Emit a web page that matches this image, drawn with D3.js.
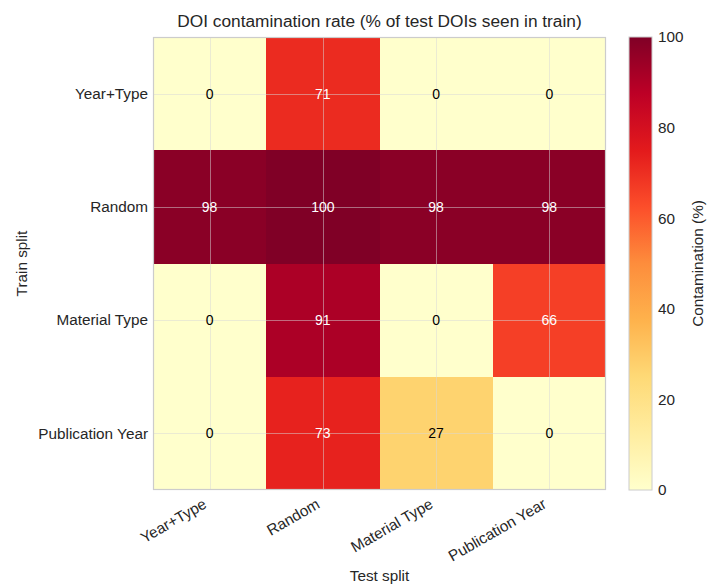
<!DOCTYPE html>
<html>
<head>
<meta charset="utf-8">
<script src="https://cdn.jsdelivr.net/npm/d3@7"></script>
<style>
  html, body { margin: 0; padding: 0; background: #fff; }
  svg { display: block; font-family: Arial, "Liberation Sans", Helvetica, sans-serif; }
</style>
</head>
<body>
<svg id="chart" width="707" height="587"></svg>
<script>
// Train splits (rows) and test splits (columns)
const trainSplits = ["Year+Type", "Random", "Material Type", "Publication Year"];
const testSplits = ["Year+Type", "Random", "Material Type", "Publication Year"];

// Contamination (%) per train split, one value per test split
const rowYearType = [0, 71, 0, 0];
const rowRandom = [98, 100, 98, 98];
const rowMaterialType = [0, 91, 0, 66];
const rowPublicationYear = [0, 73, 27, 0];

const colorbarTicks = [0, 20, 40, 60, 80, 100];

const rows = [rowYearType, rowRandom, rowMaterialType, rowPublicationYear];
const cells = [];
rows.forEach((vals, i) => vals.forEach((v, j) => cells.push({ row: trainSplits[i], col: testSplits[j], value: v })));

// YlOrRd, linear between the nine ColorBrewer anchors
const ylOrRd = ["#ffffcc", "#ffeda0", "#fed976", "#feb24c", "#fd8d3c", "#fc4e2a", "#e31a1c", "#bd0026", "#800026"];
const color = d3.scaleLinear()
  .domain(ylOrRd.map((_, i) => i * 100 / (ylOrRd.length - 1)))
  .range(ylOrRd)
  .interpolate(d3.interpolateRgb)
  .clamp(true);

const svg = d3.select("#chart");
const plot = { left: 153, top: 37, width: 453, height: 453 };
const textColor = "#262626";
const edgeColor = "#cccccc";

const x = d3.scaleBand().domain(testSplits).range([plot.left, plot.left + plot.width]);
const y = d3.scaleBand().domain(trainSplits).range([plot.top, plot.top + plot.height]);

// Heatmap cells
svg.append("g").selectAll("rect")
  .data(cells)
  .join("rect")
  .attr("x", d => x(d.col))
  .attr("y", d => y(d.row))
  .attr("width", x.bandwidth())
  .attr("height", y.bandwidth())
  .attr("fill", d => color(d.value))
  .attr("shape-rendering", "crispEdges");

// Grid lines through the cell centres
const grid = svg.append("g").attr("stroke", "rgba(215,215,215,0.5)").attr("stroke-width", 1);
testSplits.forEach(c => {
  const cx = Math.round(x(c) + x.bandwidth() / 2) + 0.5;
  grid.append("line").attr("x1", cx).attr("x2", cx).attr("y1", plot.top).attr("y2", plot.top + plot.height);
});
trainSplits.forEach(r => {
  const cy = Math.round(y(r) + y.bandwidth() / 2) + 0.5;
  grid.append("line").attr("y1", cy).attr("y2", cy).attr("x1", plot.left).attr("x2", plot.left + plot.width);
});

// Value annotations
svg.append("g").selectAll("text")
  .data(cells)
  .join("text")
  .attr("x", d => x(d.col) + x.bandwidth() / 2)
  .attr("y", d => y(d.row) + y.bandwidth() / 2)
  .attr("text-anchor", "middle")
  .attr("dominant-baseline", "central")
  .attr("font-size", 14)
  .attr("fill", d => d.value > 50 ? "#ffffff" : "#000000")
  .text(d => d3.format("d")(d.value));

// Plot frame
svg.append("rect")
  .attr("x", plot.left + 0.5).attr("y", plot.top + 0.5)
  .attr("width", plot.width - 1).attr("height", plot.height - 1)
  .attr("fill", "none").attr("stroke", edgeColor).attr("stroke-width", 1.2);

// Axes
const xAxis = svg.append("g")
  .attr("transform", `translate(0,${plot.top + plot.height})`)
  .call(d3.axisBottom(x).tickSize(0).tickPadding(0));
xAxis.select(".domain").remove();
xAxis.selectAll("text")
  .attr("font-size", 15.3)
  .attr("fill", textColor)
  .attr("text-anchor", "end")
  .attr("dy", null)
  .attr("y", 0)
  .attr("transform", "translate(-2,17) rotate(-30)");

const yAxis = svg.append("g")
  .attr("transform", `translate(${plot.left},0)`)
  .call(d3.axisLeft(y).tickSize(0).tickPadding(5));
yAxis.select(".domain").remove();
yAxis.selectAll("text")
  .attr("font-size", 15.3)
  .attr("fill", textColor)
  .attr("dy", "0.35em");

// Title and axis labels
svg.append("text")
  .attr("x", plot.left + plot.width / 2).attr("y", 27)
  .attr("text-anchor", "middle").attr("font-size", 17.3).attr("fill", textColor)
  .text("DOI contamination rate (% of test DOIs seen in train)");

svg.append("text")
  .attr("x", plot.left + plot.width / 2).attr("y", 581)
  .attr("text-anchor", "middle").attr("font-size", 15.3).attr("fill", textColor)
  .text("Test split");

svg.append("text")
  .attr("transform", `translate(27,${plot.top + plot.height / 2}) rotate(-90)`)
  .attr("text-anchor", "middle").attr("font-size", 15.3).attr("fill", textColor)
  .text("Train split");

// Colorbar
const cb = { left: 629, top: plot.top, width: 23, height: plot.height };
const defs = svg.append("defs");
const grad = defs.append("linearGradient")
  .attr("id", "cbGrad").attr("x1", 0).attr("y1", 1).attr("x2", 0).attr("y2", 0);
grad.selectAll("stop")
  .data(ylOrRd)
  .join("stop")
  .attr("offset", (_, i) => i / (ylOrRd.length - 1))
  .attr("stop-color", d => d);

svg.append("rect")
  .attr("x", cb.left).attr("y", cb.top)
  .attr("width", cb.width).attr("height", cb.height)
  .attr("fill", "url(#cbGrad)")
  .attr("stroke", edgeColor).attr("stroke-width", 1);

const cbScale = d3.scaleLinear().domain([0, 100]).range([cb.top + cb.height, cb.top]);
const cbAxis = svg.append("g")
  .attr("transform", `translate(${cb.left + cb.width},0)`)
  .call(d3.axisRight(cbScale).tickValues(colorbarTicks).tickSize(0).tickPadding(6));
cbAxis.select(".domain").remove();
cbAxis.selectAll("text").attr("font-size", 15.3).attr("fill", textColor);

svg.append("text")
  .attr("transform", `translate(703,${cb.top + cb.height / 2}) rotate(-90)`)
  .attr("text-anchor", "middle").attr("font-size", 15.3).attr("fill", textColor)
  .text("Contamination (%)");
</script>
</body>
</html>
